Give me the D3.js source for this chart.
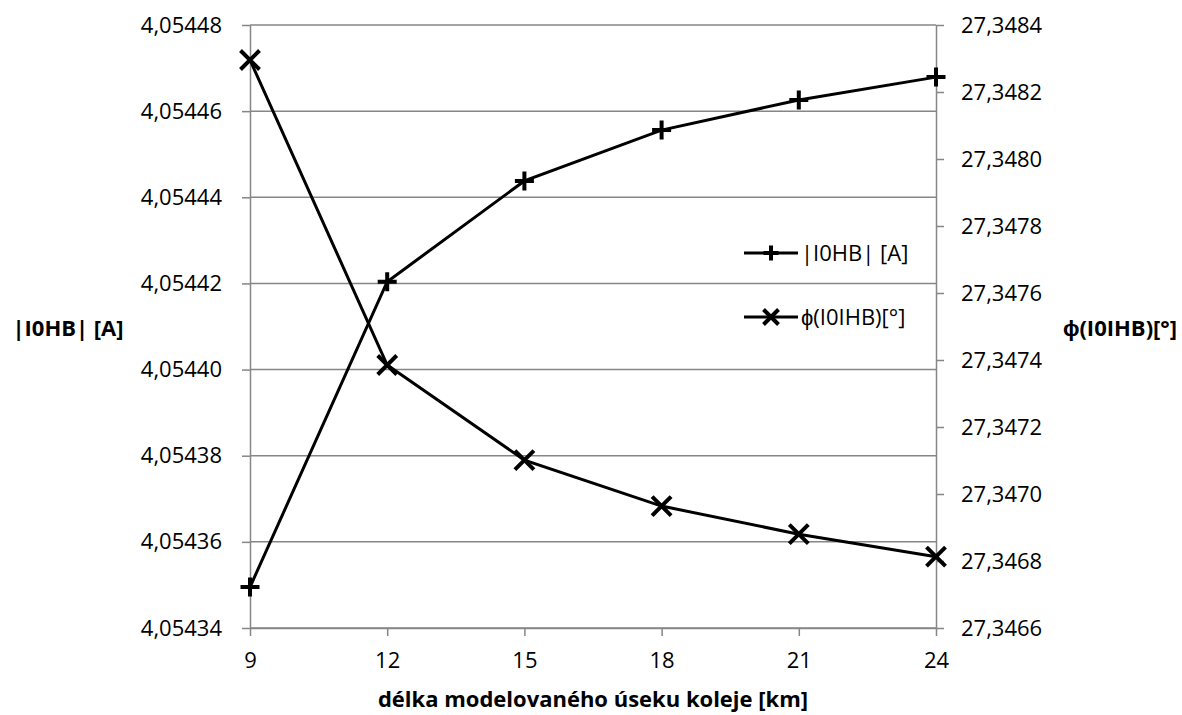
<!DOCTYPE html>
<html>
<head>
<meta charset="utf-8">
<script src="https://cdn.jsdelivr.net/npm/d3@7"></script>
<style>
  body { margin: 0; background: #fff; }
  text { font-family: "Open Sans", sans-serif; }
</style>
</head>
<body>
<script>
// data
const lengths = [9, 12, 15, 18, 21, 24]
const magnitude = [4.0543495, 4.0544204, 4.0544438, 4.0544556, 4.0544626, 4.0544679]
const phase = [27.3482956, 27.347385, 27.347101, 27.346964, 27.34688, 27.346813]
const leftTicks = [4.05434, 4.05436, 4.05438, 4.05440, 4.05442, 4.05444, 4.05446, 4.05448]
const rightTicks = [27.3466, 27.3468, 27.3470, 27.3472, 27.3474, 27.3476, 27.3478, 27.3480, 27.3482, 27.3484]

const m = { width: 1182, height: 715, left: 250, right: 936, top: 25, bottom: 628 }
const grey = '#868686'

const loc = d3.formatLocale({ decimal: ',', thousands: ' ', grouping: [3], currency: ['', ''] })

const svg = d3.select('body').append('svg')
    .attr('width', m.width)
    .attr('height', m.height)

const x = d3.scalePoint()
    .domain(lengths)
    .range([m.left, m.right])

const yL = d3.scaleLinear()
    .domain([4.05434, 4.05448])
    .range([m.bottom, m.top])

const yR = d3.scaleLinear()
    .domain([27.3466, 27.3484])
    .range([m.bottom, m.top])

// gridlines
svg.append('g')
    .selectAll('line')
    .data(leftTicks)
    .enter()
    .append('line')
        .attr('x1', m.left)
        .attr('x2', m.right)
        .attr('y1', d => yL(d))
        .attr('y2', d => yL(d))
        .attr('stroke', grey)
        .attr('stroke-width', 1.5)

// axes
function styleAxis(g) {
    g.select('.domain').attr('stroke', grey).attr('stroke-width', 1.5)
    g.selectAll('.tick line').attr('stroke', grey).attr('stroke-width', 1.5)
    g.selectAll('.tick text').attr('fill', '#000').style('font-size', '22px')
        .style('font-family', '"Open Sans", sans-serif')
}

svg.append('g')
    .attr('transform', `translate(${m.left},0)`)
    .call(d3.axisLeft(yL).tickValues(leftTicks).tickFormat(loc.format('.5f')).tickSize(8).tickPadding(20).tickSizeOuter(0))
    .call(styleAxis)

svg.append('g')
    .attr('transform', `translate(${m.right},0)`)
    .call(d3.axisRight(yR).tickValues(rightTicks).tickFormat(loc.format('.4f')).tickSize(8).tickPadding(17).tickSizeOuter(0))
    .call(styleAxis)

svg.append('g')
    .attr('transform', `translate(0,${m.bottom})`)
    .call(d3.axisBottom(x).tickSize(8).tickPadding(16).tickSizeOuter(0))
    .call(styleAxis)

// lines
const lineL = d3.line().x((d, i) => x(lengths[i])).y(d => yL(d))
const lineR = d3.line().x((d, i) => x(lengths[i])).y(d => yR(d))

svg.append('path')
    .datum(magnitude)
    .attr('d', lineL)
    .attr('fill', 'none')
    .attr('stroke', '#000')
    .attr('stroke-width', 3)

svg.append('path')
    .datum(phase)
    .attr('d', lineR)
    .attr('fill', 'none')
    .attr('stroke', '#000')
    .attr('stroke-width', 3)

function plus(s) { return `M${-s},0H${s}M0,${-s}V${s}` }
function cross(s) { return `M${-s},${-s}L${s},${s}M${-s},${s}L${s},${-s}` }

svg.append('g')
    .selectAll('path')
    .data(magnitude)
    .enter()
    .append('path')
        .attr('transform', (d, i) => `translate(${x(lengths[i])},${yL(d)})`)
        .attr('d', plus(9.5))
        .attr('stroke', '#000')
        .attr('stroke-width', 4)

svg.append('g')
    .selectAll('path')
    .data(phase)
    .enter()
    .append('path')
        .attr('transform', (d, i) => `translate(${x(lengths[i])},${yR(d)})`)
        .attr('d', cross(9.5))
        .attr('stroke', '#000')
        .attr('stroke-width', 4)

// legend
const legend = [
    { name: '|I0HB| [A]', mark: plus(7.5), y: 253 },
    { name: 'ϕ(I0IHB)[°]', mark: cross(7.5), y: 317 }
]
const lg = svg.append('g')
legend.forEach(d => {
    lg.append('line')
        .attr('x1', 744).attr('x2', 798)
        .attr('y1', d.y).attr('y2', d.y)
        .attr('stroke', '#000').attr('stroke-width', 3)
    lg.append('path')
        .attr('transform', `translate(771,${d.y})`)
        .attr('d', d.mark)
        .attr('stroke', '#000').attr('stroke-width', 4)
    lg.append('text')
        .attr('x', 801).attr('y', d.y)
        .attr('dy', '0.35em')
        .style('font-size', '22px')
        .text(d.name)
})

// axis titles
svg.append('text')
    .attr('x', 68).attr('y', 328)
    .attr('dy', '0.35em')
    .attr('text-anchor', 'middle')
    .style('font-size', '22px').style('font-weight', 'bold')
    .text('|I0HB| [A]')

svg.append('text')
    .attr('x', 1120).attr('y', 328)
    .attr('dy', '0.35em')
    .attr('text-anchor', 'middle')
    .style('font-size', '22px').style('font-weight', 'bold')
    .text('ϕ(I0IHB)[°]')

svg.append('text')
    .attr('x', 593).attr('y', 707)
    .attr('text-anchor', 'middle')
    .style('font-size', '22px').style('font-weight', 'bold')
    .text('délka modelovaného úseku koleje [km]')
</script>
</body>
</html>
